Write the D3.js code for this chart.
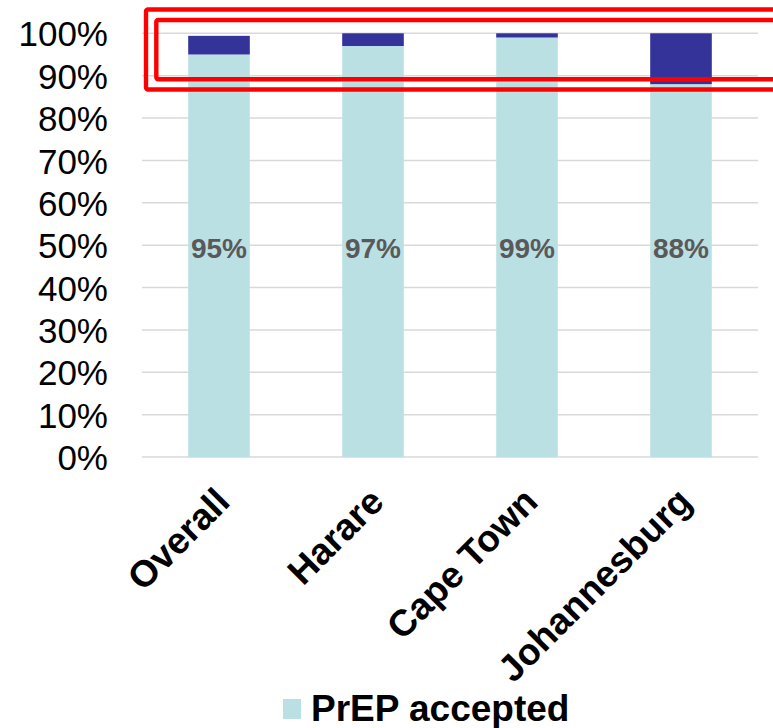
<!DOCTYPE html>
<html>
<head>
<meta charset="utf-8">
<script src="https://cdn.jsdelivr.net/npm/d3@7"></script>
<style>
  html, body { margin: 0; padding: 0; background: #ffffff; }
  svg { display: block; font-family: "Liberation Sans", Arial, sans-serif; }
</style>
</head>
<body>
<svg id="chart" width="773" height="728"></svg>
<script>
// Sites and outcome shares (percent of participants)
const categories = ["Overall", "Harare", "Cape Town", "Johannesburg"];
const accepted = [95, 97, 99, 88];
const declined = [4.4, 3, 1, 12];
const yTicks = [0, 10, 20, 30, 40, 50, 60, 70, 80, 90, 100];
const legendLabel = "PrEP accepted";

const colors = { accepted: "#bbe0e3", declined: "#333399" };

const svg = d3.select("#chart");
const margin = { left: 142, right: 15, top: 33.3, bottom: 271 };
const width = 773, height = 728;

const x = d3.scaleBand()
  .domain(categories)
  .range([margin.left, width - margin.right])
  .paddingInner(0.6)
  .paddingOuter(0.3);

const y = d3.scaleLinear()
  .domain([0, 100])
  .range([height - margin.bottom, margin.top]);

// Gridlines
svg.append("g")
  .selectAll("line")
  .data(yTicks)
  .join("line")
  .attr("x1", margin.left)
  .attr("x2", width - margin.right)
  .attr("y1", d => y(d))
  .attr("y2", d => y(d))
  .attr("stroke", "#d9d9d9")
  .attr("stroke-width", 1.5);

// Y axis labels
const yAxis = d3.axisLeft(y).tickValues(yTicks).tickFormat(d => d + "%").tickSize(0).tickPadding(0);
const yg = svg.append("g")
  .attr("transform", `translate(108,0)`)
  .call(yAxis);
yg.select(".domain").remove();
yg.selectAll("text")
  .attr("font-size", 35)
  .attr("font-family", "'Liberation Sans', Arial, sans-serif")
  .attr("fill", "#000")
  .attr("dy", "0.36em");

// Stacked bars
const rows = categories.map((c, i) => ({ cat: c, acc: accepted[i], dec: declined[i] }));

svg.append("g")
  .selectAll("rect")
  .data(rows)
  .join("rect")
  .attr("x", d => x(d.cat))
  .attr("width", x.bandwidth())
  .attr("y", d => y(d.acc))
  .attr("height", d => y(0) - y(d.acc))
  .attr("fill", colors.accepted);

svg.append("g")
  .selectAll("rect")
  .data(rows)
  .join("rect")
  .attr("x", d => x(d.cat))
  .attr("width", x.bandwidth())
  .attr("y", d => y(d.acc + d.dec))
  .attr("height", d => y(d.acc) - y(d.acc + d.dec))
  .attr("fill", colors.declined);

// Value labels for accepted share
svg.append("g")
  .selectAll("text")
  .data(rows)
  .join("text")
  .attr("x", d => x(d.cat) + x.bandwidth() / 2)
  .attr("y", y(50) + 13)
  .attr("text-anchor", "middle")
  .attr("font-size", 28)
  .attr("font-weight", "bold")
  .attr("fill", "#595959")
  .text(d => d.acc + "%");

// Category labels, rotated
svg.append("g")
  .selectAll("text")
  .data(categories)
  .join("text")
  .attr("transform", d => `translate(${x(d) + x.bandwidth() / 2 - 6},485) rotate(-45)`)
  .attr("text-anchor", "end")
  .attr("dy", "0.72em")
  .attr("font-size", 37)
  .attr("font-weight", "bold")
  .attr("fill", "#000")
  .text(d => d);

// Legend
const lg = svg.append("g");
lg.append("rect")
  .attr("x", 283).attr("y", 699).attr("width", 18).attr("height", 20)
  .attr("fill", colors.accepted);
lg.append("text")
  .attr("x", 311).attr("y", 721)
  .attr("font-size", 37)
  .attr("font-weight", "bold")
  .attr("fill", "#000")
  .text(legendLabel);

// Highlight frames around the top band
const frames = svg.append("g").attr("fill", "none").attr("stroke", "#ff0000").attr("stroke-width", 4.4);
frames.append("rect").attr("x", 146).attr("y", 9.5).attr("width", 700).attr("height", 80).attr("rx", 2);
frames.append("rect").attr("x", 156.3).attr("y", 20).attr("width", 700).attr("height", 59.3).attr("rx", 2);
</script>
</body>
</html>
